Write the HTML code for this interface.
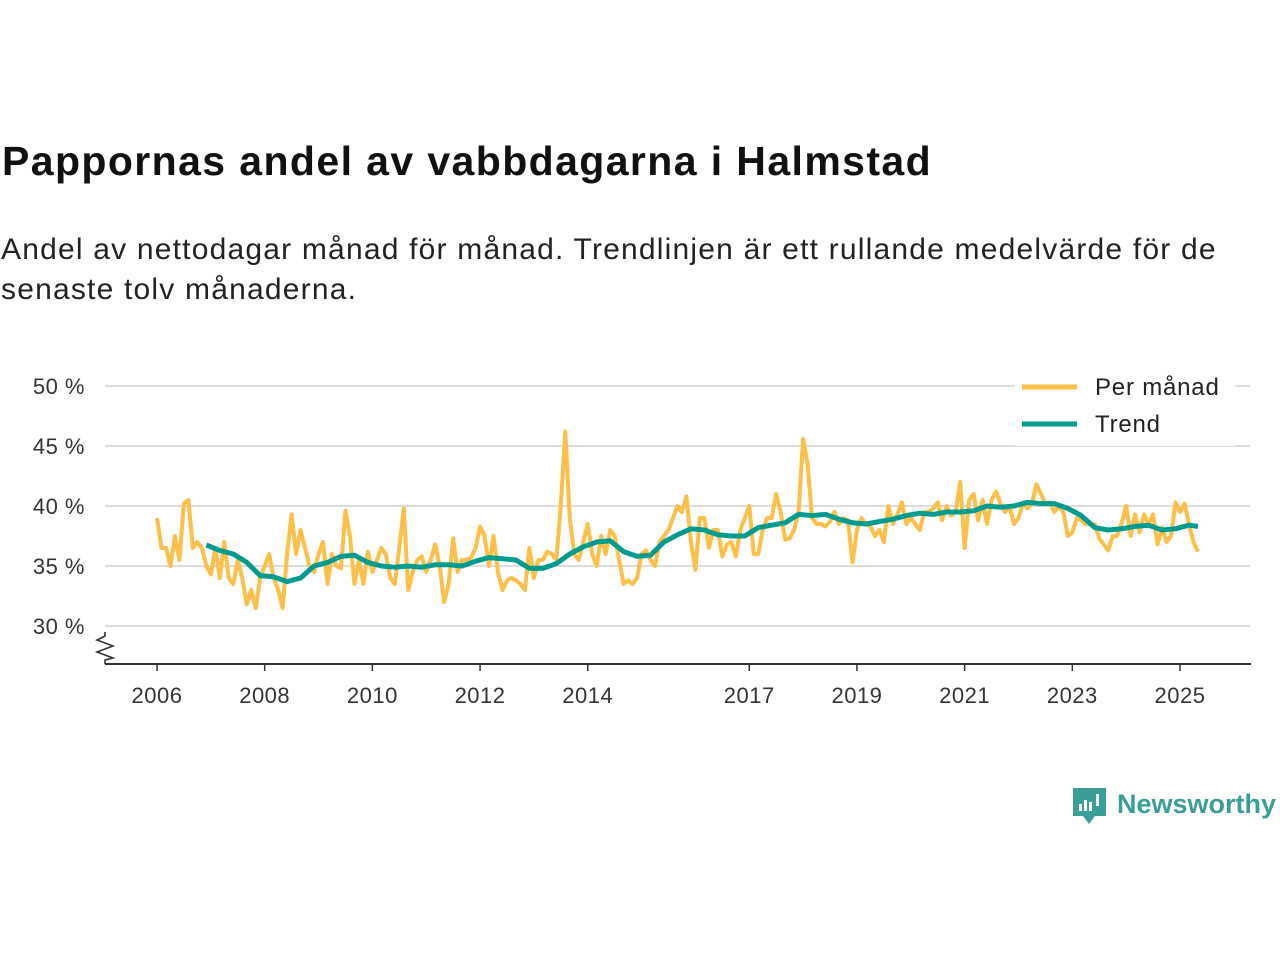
<!DOCTYPE html>
<html><head><meta charset="utf-8"><style>
body{margin:0;background:#fff;font-family:"Liberation Sans","DejaVu Sans",sans-serif;}
#wrap{position:relative;width:1280px;height:960px;overflow:hidden}
h1{position:absolute;left:2px;top:138px;margin:0;font-size:41px;font-weight:bold;color:#111;letter-spacing:1.4px;white-space:nowrap}
p{position:absolute;left:1px;top:230px;margin:0;font-size:30px;line-height:40px;color:#222;width:1275px;letter-spacing:1.2px;white-space:nowrap}
svg{position:absolute;left:0;top:0}
</style></head><body><div id="wrap">
<h1>Pappornas andel av vabbdagarna i Halmstad</h1>
<p>Andel av nettodagar månad för månad. Trendlinjen är ett rullande medelvärde för de<br>senaste tolv månaderna.</p>
<svg id="chart" width="1280" height="960"></svg>
</div>
<script>
const yTicks=[30,35,40,45,50];
const xTickYears=[2006,2008,2010,2012,2014,2017,2019,2021,2023,2025];
const monthly=[
39,36.5,36.5,35,37.5,35.5,40.2,40.5,36.5,37,36.5,35,
34.3,36.5,34,37,34,33.5,35.5,34,31.8,33,31.5,34,
35,36,34,33,31.5,36,39.3,36,38,36.5,35,34.5,
36,37,33.5,36,35,34.8,39.6,37.5,33.5,35.5,33.5,36.2,
34.5,35.5,36.5,36,34,33.5,36.5,39.8,33,34.5,35.5,35.8,
34.5,35.5,36.8,35,32,33.5,37.3,34.5,35.5,35.5,35.7,36.5,
38.3,37.5,35,37.5,34.5,33,33.8,34,33.8,33.5,33,36.5,
34,35.5,35.5,36.2,36,35.5,40,46.2,39,36,35.5,37,
38.5,36,35,37.5,36,38,37.5,35.5,33.5,33.8,33.5,34,
36,36.3,35.5,35,37,37.5,38,39,40,39.5,40.8,37,
34.7,39,39,36.5,38,38,35.8,36.8,37,35.8,38,39,
40,36,36,38,39,39,41,39.5,37.2,37.3,38,39.5,
45.6,43.5,39,38.5,38.5,38.3,38.7,39.5,38.5,39,38.8,35.3,
38,39,38.5,38.3,37.5,38,37,40,38.5,39.3,40.3,38.5,
39,38.5,38,39.5,39.5,39.8,40.3,38.8,40,39.2,39.5,42,
36.5,40.5,41,38.8,40.5,38.5,40.5,41.2,40.2,39.5,40,38.5,
39,40.3,39.8,40.2,41.8,41,40.2,40.3,39.5,40,39.5,37.5,
37.8,39,38.8,38.5,38.5,38.5,37.3,36.8,36.3,37.5,37.5,38.6,
40,37.5,39.3,37.8,39.3,38.5,39.3,36.8,38.2,37,37.5,40.3,
39.5,40.2,38.5,37,36.2];
const trendMonthIdx=[11,14,17,20,23,26,29,32,35,38,41,44,47,50,53,56,59,62,65,68,71,74,77,80,83,86,89,92,95,98,101,104,107,110,113,116,119,122,125,128,131,134,137,140,143,146,149,152,155,158,161,164,167,170,173,176,179,182,185,188,191,194,197,200,203,206,209,212,215,218,221,224,227,230,232];
const trendValues=[36.75,36.3,36.0,35.3,34.2,34.1,33.7,34.0,35.0,35.3,35.8,35.9,35.3,35.0,34.9,35.0,34.9,35.1,35.1,35.0,35.4,35.7,35.6,35.5,34.8,34.8,35.2,36.0,36.6,37.0,37.1,36.2,35.8,35.9,37.0,37.6,38.1,38.0,37.6,37.5,37.5,38.2,38.4,38.6,39.3,39.2,39.3,38.9,38.6,38.5,38.7,38.9,39.2,39.4,39.3,39.5,39.5,39.6,40.0,39.9,40.0,40.3,40.2,40.2,39.8,39.2,38.2,38.0,38.1,38.3,38.4,38.0,38.1,38.4,38.3];
const NS='http://www.w3.org/2000/svg';
const svg=document.getElementById('chart');
const x=m=>157+m*(1180-157)/(19*12);
const y=v=>386+(50-v)*12;
function el(t,a,p){const e=document.createElementNS(NS,t);for(const k in a)e.setAttribute(k,a[k]);(p||svg).appendChild(e);return e;}
yTicks.forEach(v=>{
 const g=el('line',{x1:105,x2:1250,y1:y(v),y2:y(v),stroke:'#ddd','stroke-width':2});
 
 
 const t=el('text',{x:85,y:y(v)+8,'text-anchor':'end','font-size':22,fill:'#333','letter-spacing':0.5});
 t.textContent=v+' %';
 
 
});
const ax=el('line',{x1:105,x2:1251,y1:664,y2:664,stroke:'#333','stroke-width':2});


const zz=el('path',{d:'M105 632 L105 636 L97 640 L113 646 L97 652 L113 658 L105 660 L105 664',fill:'none',stroke:'#333','stroke-width':1.6});


xTickYears.forEach(yr=>{
 const xx=x((yr-2006)*12);
 const tk=el('line',{x1:xx,x2:xx,y1:664,y2:671,stroke:'#333','stroke-width':1.5});
 
 
 const t=el('text',{x:xx,y:703,'text-anchor':'middle','font-size':22,fill:'#333','letter-spacing':0.5});
 t.textContent=yr;
 
 
});
const pm=el('polyline',{points:monthly.map((v,i)=>x(i)+','+y(v)).join(' '),fill:'none',stroke:'#fdbf47','stroke-width':4,'stroke-linejoin':'round'});


const tr=el('polyline',{points:trendValues.map((v,i)=>x(trendMonthIdx[i])+','+y(v)).join(' '),fill:'none',stroke:'#009b8f','stroke-width':5,'stroke-linejoin':'round'});


const lg=el('g',{});


el('rect',{x:1015,y:366,width:220,height:80,fill:'#fff'},lg);
el('line',{x1:1022,x2:1077,y1:387,y2:387,stroke:'#fdbf47','stroke-width':5},lg);
el('line',{x1:1022,x2:1077,y1:424,y2:424,stroke:'#009b8f','stroke-width':5},lg);
const l1=el('text',{x:1095,y:395,'font-size':24,fill:'#222','letter-spacing':0.8},lg);l1.textContent='Per månad';


const l2=el('text',{x:1095,y:432,'font-size':24,fill:'#222','letter-spacing':0.8},lg);l2.textContent='Trend';


const logo=el('g',{});


el('path',{d:'M1073 788 h33 v28 h-11 l-6 8 l-6 -8 h-10 z',fill:'#3a9e98'},logo);
el('rect',{x:1079,y:804,width:3,height:7,fill:'#fff'},logo);
el('rect',{x:1084,y:800,width:3,height:11,fill:'#fff'},logo);
el('rect',{x:1089,y:802,width:3,height:9,fill:'#fff'},logo);
el('rect',{x:1096,y:794,width:3,height:12,fill:'#fff'},logo);
const lt=el('text',{x:1117,y:813,'font-size':27,'font-weight':'bold',fill:'#3a9e98'},logo);lt.textContent='Newsworthy';
</script></body></html>
